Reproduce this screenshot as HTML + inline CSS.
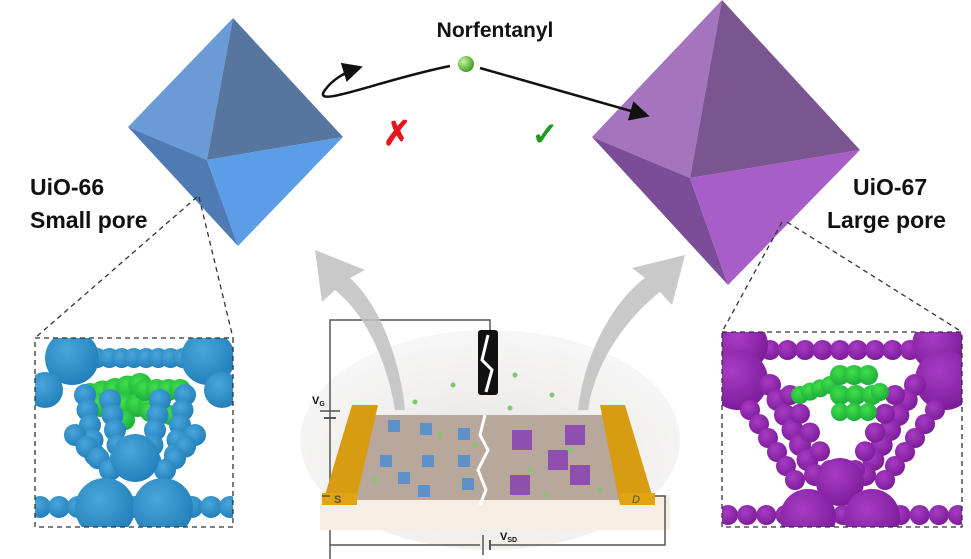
<!DOCTYPE html>
<html><head><meta charset="utf-8"><style>
html,body{margin:0;padding:0;background:#fff;}
svg{display:block;font-family:"Liberation Sans",sans-serif;}
</style></head><body>
<svg id="svg" width="971" height="559" viewBox="0 0 971 559">
<defs>
<marker id="ah" markerWidth="8" markerHeight="8" refX="6" refY="4" orient="auto"><path d="M0,0 L8,4 L0,8 Z" fill="#111"/></marker>
<radialGradient id="gb" cx="0.35" cy="0.35" r="0.7"><stop offset="0" stop-color="#c8f5a0"/><stop offset="1" stop-color="#3c9a1a"/></radialGradient>
<radialGradient id="dome" cx="0.5" cy="0.6" r="0.6"><stop offset="0" stop-color="#e6e2de"/><stop offset="1" stop-color="#f6f6f6"/></radialGradient>
<radialGradient id="bs" cx="0.4" cy="0.35" r="0.7"><stop offset="0" stop-color="#4aa6dc"/><stop offset="1" stop-color="#1f7db8"/></radialGradient>
<radialGradient id="ps" cx="0.4" cy="0.35" r="0.7"><stop offset="0" stop-color="#a83cc4"/><stop offset="1" stop-color="#7a1a98"/></radialGradient>
<radialGradient id="gs" cx="0.4" cy="0.35" r="0.7"><stop offset="0" stop-color="#3fe04a"/><stop offset="1" stop-color="#1aa83a"/></radialGradient>
</defs>
<g>
<polygon points="233,18 128,127 207,160" fill="#6b9bd6"/>
<polygon points="233,18 343,137 207,160" fill="#56769f"/>
<polygon points="128,127 207,160 238,246" fill="#4f7bb5"/>
<polygon points="207,160 343,137 238,246" fill="#5b9de6"/>
</g>
<g>
<polygon points="722,0 592,137 690,178" fill="#a474bf"/>
<polygon points="722,0 860,150 690,178" fill="#7b5590"/>
<polygon points="592,137 690,178 728,285" fill="#7b4d98"/>
<polygon points="690,178 860,150 728,285" fill="#a85ec9"/>
</g>
<text x="495" y="37" font-size="21" font-weight="bold" text-anchor="middle" fill="#111">Norfentanyl</text>
<circle cx="466" cy="64" r="8" fill="url(#gb)"/>
<path d="M450,66 C380,80 310,110 325,90 C332,80 345,72 358,68" fill="none" stroke="#111" stroke-width="2.5" marker-end="url(#ah)"/>
<line x1="480" y1="68" x2="645" y2="115" stroke="#111" stroke-width="2.5" marker-end="url(#ah)"/>
<text x="397" y="145" font-size="34" font-weight="bold" fill="#e8141c" text-anchor="middle">✗</text>
<text x="545" y="145" font-size="32" font-weight="bold" fill="#1e9a1e" text-anchor="middle">✓</text>
<text x="30" y="195" font-size="23" font-weight="bold" fill="#111">UiO-66</text>
<text x="30" y="228" font-size="23" font-weight="bold" fill="#111">Small pore</text>
<text x="853" y="195" font-size="23" font-weight="bold" fill="#111">UiO-67</text>
<text x="827" y="228" font-size="23" font-weight="bold" fill="#111">Large pore</text>
<g id="leftInset"></g>
<g id="rightInset"></g>
<g stroke="#333" stroke-width="1.3" stroke-dasharray="5,4" fill="none">
<line x1="197" y1="197" x2="35" y2="338"/><line x1="199" y1="197" x2="233" y2="338"/>
<line x1="782" y1="222" x2="722" y2="332"/><line x1="787" y1="222" x2="962" y2="332"/>
<rect x="35" y="338" width="198" height="189"/><rect x="722" y="332" width="240" height="195"/>
</g>
<g>
<ellipse cx="490" cy="440" rx="190" ry="110" fill="url(#dome)" opacity="0.9"/>
<path d="M330,560 L330,320 L490,320 L490,340" fill="none" stroke="#555" stroke-width="1.5"/>
<rect x="478" y="330" width="20" height="65" rx="3" fill="#111"/>
<path d="M488,335 L482,360 L492,370 L486,392" stroke="#fff" stroke-width="3" fill="none"/>
<polygon points="320,495 670,495 670,530 320,530" fill="#f6eee2"/>
<polygon points="370,415 620,415 650,500 350,500" fill="#b8a89c"/>
<polygon points="352,405 378,405 355,505 322,505" fill="#d79c12"/>
<rect x="322" y="493" width="35" height="12" fill="#e0a312"/>
<text x="334" y="503" font-size="11" font-weight="bold" fill="#553">S</text>
<polygon points="600,405 625,405 655,505 620,505" fill="#d79c12"/>
<rect x="620" y="493" width="35" height="12" fill="#e0a312"/>
<text x="632" y="503" font-size="11" font-style="italic" fill="#553">D</text>
<path d="M485,415 L480,435 L488,450 L478,470 L486,490 L480,505" stroke="#fff" stroke-width="3" fill="none"/>
<g fill="#5d8fc8"><rect x="388" y="420" width="12" height="12"/><rect x="420" y="423" width="12" height="12"/><rect x="458" y="428" width="12" height="12"/><rect x="380" y="455" width="12" height="12"/><rect x="422" y="455" width="12" height="12"/><rect x="458" y="455" width="12" height="12"/><rect x="398" y="472" width="12" height="12"/><rect x="418" y="485" width="12" height="12"/><rect x="462" y="478" width="12" height="12"/></g>
<g fill="#8f4fb0"><rect x="512" y="430" width="20" height="20"/><rect x="565" y="425" width="20" height="20"/><rect x="548" y="450" width="20" height="20"/><rect x="570" y="465" width="20" height="20"/><rect x="510" y="475" width="20" height="20"/></g>
<path d="M330,496 L322,496 M655,496 L665,496 L665,545 L490,545 M480,545 L330,545" fill="none" stroke="#555" stroke-width="1.5"/>
<line x1="483" y1="535" x2="483" y2="555" stroke="#555" stroke-width="1.5"/><line x1="490" y1="540" x2="490" y2="550" stroke="#555" stroke-width="2"/>
<line x1="320" y1="411" x2="340" y2="411" stroke="#555" stroke-width="1.5"/><line x1="324" y1="418" x2="336" y2="418" stroke="#555" stroke-width="2"/>
<text x="312" y="404" font-size="11" font-weight="bold" fill="#111">V<tspan font-size="7" dy="2">G</tspan></text>
<text x="500" y="540" font-size="11" font-weight="bold" fill="#111">V<tspan font-size="7" dy="2">SD</tspan></text>
<g fill="#7cc870"><circle cx="453" cy="385" r="2.5"/><circle cx="515" cy="375" r="2.5"/><circle cx="552" cy="395" r="2.5"/><circle cx="415" cy="402" r="2.5"/><circle cx="510" cy="408" r="2.5"/><circle cx="440" cy="435" r="2.5"/><circle cx="475" cy="445" r="2.5"/><circle cx="570" cy="450" r="2.5"/><circle cx="375" cy="480" r="2.5"/><circle cx="530" cy="470" r="2.5"/><circle cx="545" cy="495" r="2.5"/><circle cx="600" cy="490" r="2.5"/></g>
</g>
<path d="M395,410 C385,350 360,310 335,290 L322,302 L315,250 L365,270 L350,278 C380,305 400,360 405,410 Z" fill="#c0c0c0" opacity="0.85"/>
<path d="M578,410 C585,350 615,300 645,278 L632,268 L685,255 L672,305 L660,292 C630,315 595,360 588,410 Z" fill="#c0c0c0" opacity="0.85"/>
</svg>
<script>
var NS='http://www.w3.org/2000/svg';
function ball(g,x,y,r,f){var c=document.createElementNS(NS,'circle');c.setAttribute('cx',x);c.setAttribute('cy',y);c.setAttribute('r',r);c.setAttribute('fill',f);g.appendChild(c);}
function chain(g,x1,y1,x2,y2,n,r,f){for(var i=0;i<n;i++){var t=n>1?i/(n-1):0;ball(g,x1+(x2-x1)*t,y1+(y2-y1)*t,r,f);}}
var L=document.getElementById('leftInset'),B='url(#bs)',G='url(#gs)';
var clipL=document.createElementNS(NS,'clipPath');clipL.id='cl';var rl=document.createElementNS(NS,'rect');rl.setAttribute('x',35);rl.setAttribute('y',338);rl.setAttribute('width',198);rl.setAttribute('height',189);clipL.appendChild(rl);document.querySelector('defs').appendChild(clipL);
L.setAttribute('clip-path','url(#cl)');
chain(L,85,358,195,358,10,10,B);
chain(L,90,395,140,385,5,12,G);chain(L,100,405,150,405,5,12,G);chain(L,115,420,125,420,2,10,G);chain(L,145,390,180,390,4,11,G);chain(L,150,412,170,415,2,10,G);
ball(L,72,358,27,B);ball(L,208,358,27,B);ball(L,45,390,18,B);ball(L,222,390,18,B);
chain(L,85,395,95,455,5,11,B);chain(L,110,400,120,460,5,11,B);chain(L,75,435,110,470,4,11,B);
chain(L,185,395,175,455,5,11,B);chain(L,160,400,150,460,5,11,B);chain(L,195,435,165,470,4,11,B);
ball(L,135,458,24,B);
chain(L,40,507,230,507,11,11,B);
ball(L,105,508,30,B);ball(L,163,508,30,B);
var R=document.getElementById('rightInset'),P='url(#ps)';
var clipR=document.createElementNS(NS,'clipPath');clipR.id='cr';var rr=document.createElementNS(NS,'rect');rr.setAttribute('x',722);rr.setAttribute('y',332);rr.setAttribute('width',240);rr.setAttribute('height',195);clipR.appendChild(rr);document.querySelector('defs').appendChild(clipR);
R.setAttribute('clip-path','url(#cr)');
chain(R,770,350,910,350,9,10,P);
ball(R,742,345,26,P);ball(R,738,380,30,P);ball(R,938,345,26,P);ball(R,945,380,30,P);
chain(R,770,385,815,475,7,11,P);chain(R,750,410,795,480,6,10,P);chain(R,790,395,830,470,5,10,P);
chain(R,915,385,865,475,7,11,P);chain(R,935,410,885,480,6,10,P);chain(R,895,395,855,470,5,10,P);
ball(R,840,482,24,P);
chain(R,728,515,958,515,13,10,P);
ball(R,808,517,28,P);ball(R,872,517,28,P);
chain(R,800,395,830,385,4,9,G);chain(R,840,375,868,375,3,10,G);chain(R,840,395,872,395,3,10,G);chain(R,840,412,868,412,3,9,G);ball(R,880,392,9,G);
</script>
</body></html>
